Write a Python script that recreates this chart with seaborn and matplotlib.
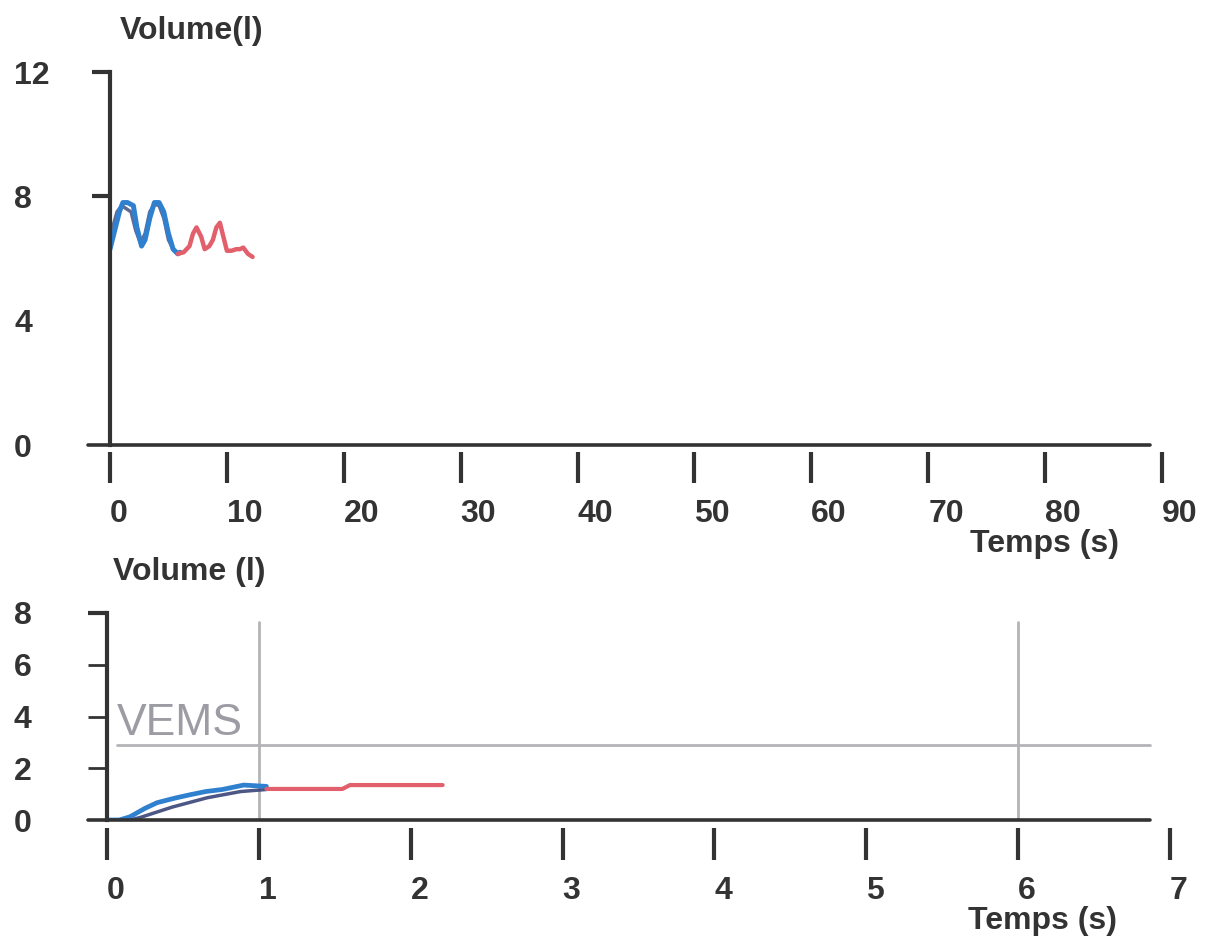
import matplotlib
matplotlib.use("Agg")
import matplotlib.pyplot as plt
import seaborn as sns
import pandas as pd

sns.set_theme(style="white")
plt.rcParams['font.family'] = ['Liberation Sans', 'DejaVu Sans']

# ---------------- data ----------------
# top panel: volume vs time (0-90 s)
top_blue_t = [0.0, 0.4, 0.8, 1.1, 1.5, 2.0, 2.3, 2.7, 3.0, 3.4, 3.8, 4.2, 4.6, 5.0, 5.4, 5.8, 6.0]
top_blue_v = [6.3, 6.9, 7.5, 7.8, 7.8, 7.7, 7.0, 6.4, 6.6, 7.3, 7.8, 7.8, 7.5, 6.8, 6.3, 6.15, 6.2]
top_dark_t = [0.0, 0.3, 0.6, 1.0, 1.4, 1.8, 2.2, 2.6, 3.0, 3.4, 3.8, 4.2, 4.6, 5.0, 5.4]
top_dark_v = [6.6, 7.1, 7.5, 7.7, 7.6, 7.5, 6.9, 6.5, 6.8, 7.5, 7.75, 7.7, 7.3, 6.6, 6.3]
top_red_t = [5.8, 6.3, 6.8, 7.1, 7.4, 7.8, 8.1, 8.5, 8.8, 9.1, 9.4, 9.7, 10.0, 10.4, 10.8, 11.1, 11.4, 11.8, 12.2]
top_red_v = [6.15, 6.2, 6.4, 6.8, 7.0, 6.7, 6.3, 6.4, 6.6, 7.0, 7.15, 6.7, 6.25, 6.25, 6.3, 6.3, 6.35, 6.15, 6.05]
top_xticks = [0, 10, 20, 30, 40, 50, 60, 70, 80, 90]
top_yticks = [0, 4, 8, 12]

# bottom panel: volume vs time (0-7 s)
bot_blue_t = [0.0, 0.08, 0.15, 0.25, 0.33, 0.45, 0.55, 0.65, 0.76, 0.9, 1.05]
bot_blue_v = [0.0, 0.0, 0.12, 0.45, 0.67, 0.85, 0.98, 1.1, 1.18, 1.35, 1.3]
bot_dark_t = [0.0, 0.15, 0.22, 0.43, 0.66, 0.88, 1.05]
bot_dark_v = [-0.05, 0.0, 0.1, 0.5, 0.86, 1.1, 1.18]
bot_red_t = [1.05, 1.55, 1.6, 2.21]
bot_red_v = [1.2, 1.2, 1.35, 1.35]
bot_xticks = [0, 1, 2, 3, 4, 5, 6, 7]
bot_yticks = [0, 2, 4, 6, 8]
vems_level = 2.9
vlines_t = [1, 6]

# ---------------- style ----------------
BLUE = "#2f80cf"
DARK = "#3a4578"
RED = "#e2606c"
AX = "#333333"
GREY = "#b4b4b8"
FS = 23
PX = 0.72  # points per pixel at dpi 100

fig = plt.figure(figsize=(12.3, 9.47), dpi=100)
ax1 = fig.add_axes([110/1230, 1-445/947, 1052/1230, 373/947])
ax2 = fig.add_axes([107/1230, 1-820/947, 1063/1230, 207/947])

def line(ax, t, v, color, lw=3.0, alpha=1.0):
    df = pd.DataFrame({"t": t, "v": v})
    sns.lineplot(data=df, x="t", y="v", ax=ax, color=color, lw=lw,
                 sort=False, estimator=None, alpha=alpha)

line(ax1, top_dark_t, top_dark_v, DARK, lw=2.5, alpha=0.8)
line(ax1, top_blue_t, top_blue_v, BLUE, lw=3.6)
line(ax1, top_red_t, top_red_v, RED, lw=3.2)

line(ax2, bot_dark_t, bot_dark_v, DARK, lw=2.5, alpha=0.9)
line(ax2, bot_blue_t, bot_blue_v, BLUE, lw=3.4)
line(ax2, bot_red_t, bot_red_v, RED, lw=3.0)

# reference lines in bottom panel
ax2.axhline(vems_level, xmin=(117-107)/1063, xmax=(1150-107)/1063, color=GREY, lw=2.0)
for t in vlines_t:
    ax2.axvline(t, ymin=0, ymax=7.65/8, color=GREY, lw=2.0, zorder=0)
ax2.text(0.066, 3.28, "VEMS", fontsize=32, color="#9c9ca4", ha="left", va="baseline")

def style_axes(ax, xlim, ylim, xticks, yticks, axis_left_px, axis_w_px, axis_h_px,
               xtick_len, xoffset, ytick_len, ylabel, ylab_xy, xlab_xy, hidden_yticks, thin_yticks):
    ax.set_xlim(*xlim)
    ax.set_ylim(*ylim)
    ax.set_xticks(xticks)
    ax.set_yticks(yticks)
    ax.set_xticklabels([str(x) for x in xticks])
    ax.set_yticklabels([str(y) for y in yticks])
    for s in ["top", "right"]:
        ax.spines[s].set_visible(False)
    ax.spines["left"].set_color(AX)
    ax.spines["left"].set_linewidth(3.0)
    ax.spines["bottom"].set_position(("outward", xoffset * PX))
    ax.spines["bottom"].set_visible(False)
    ax.axhline(0, xmin=(88 - axis_left_px) / axis_w_px, xmax=(1150 - axis_left_px) / axis_w_px,
               color=AX, lw=2.6, clip_on=False, zorder=3)
    ax.tick_params(axis="x", direction="out", length=xtick_len * PX, width=3.0,
                   color=AX, pad=16 * PX, labelsize=FS, labelcolor=AX, bottom=True)
    ax.tick_params(axis="y", direction="out", length=ytick_len * PX, width=3.0,
                   color=AX, pad=(axis_left_px - 14 - ytick_len) * PX, labelsize=FS,
                   labelcolor=AX, left=True)
    for lab in ax.get_xticklabels():
        lab.set_horizontalalignment("left")
        lab.set_fontweight("bold")
    for lab in ax.get_yticklabels():
        lab.set_horizontalalignment("left")
        lab.set_fontweight("bold")
    for i, tk in enumerate(ax.yaxis.get_major_ticks()):
        if yticks[i] in hidden_yticks:
            tk.tick1line.set_visible(False)
        elif yticks[i] in thin_yticks:
            tk.tick1line.set_markeredgewidth(2.0)
    ax.set_ylabel(ylabel, rotation=0, fontsize=FS, fontweight="bold", color=AX,
                  ha="left", va="top")
    ax.yaxis.set_label_coords(*ylab_xy)
    ax.set_xlabel("Temps (s)", fontsize=FS, fontweight="bold", color=AX,
                  ha="center", va="top")
    ax.xaxis.set_label_coords(*xlab_xy)
    ax.grid(False)
    ax.patch.set_alpha(0)

style_axes(ax1, (0, 90), (0, 12), top_xticks, top_yticks, 110, 1052, 373,
           31, 7, 18, "Volume(l)",
           ((120-110)/1052, (445-16)/373), ((1044-110)/1052, -(529-445)/373),
           hidden_yticks=[0, 4], thin_yticks=[])
style_axes(ax2, (0, 7), (0, 8), bot_xticks, bot_yticks, 107, 1063, 207,
           32, 8, 19, "Volume (l)",
           ((113-107)/1063, (820-557)/207), ((1042-107)/1063, -(906-820)/207),
           hidden_yticks=[0], thin_yticks=[2, 4, 6])

fig.savefig("out.png", dpi=100, facecolor="white")
